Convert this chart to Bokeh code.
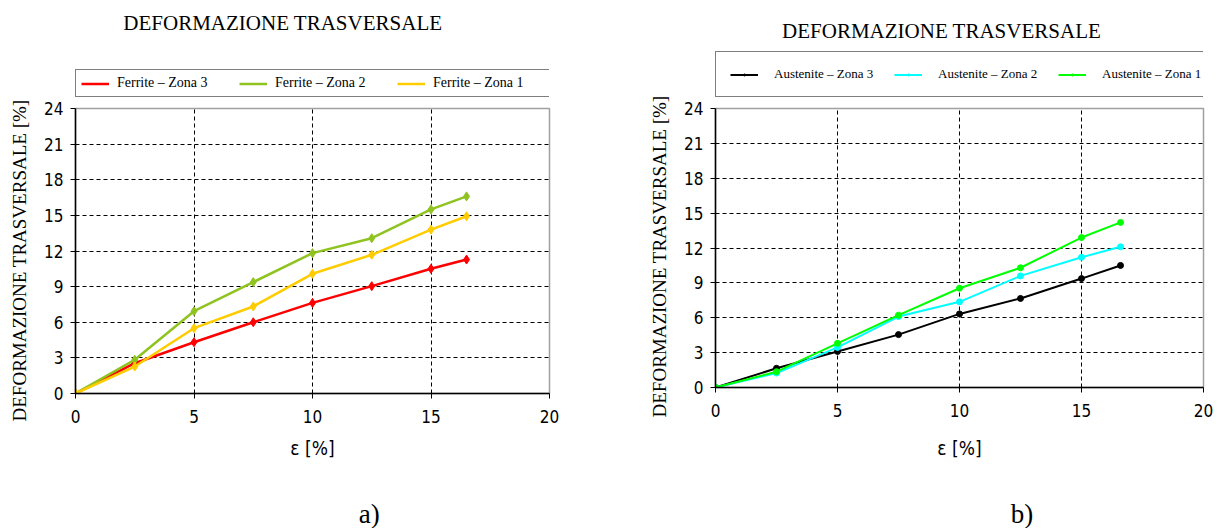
import math
from bokeh.plotting import figure
from bokeh.models import Legend, LegendItem, FixedTicker, Range1d, Label
from bokeh.layouts import row, column
from bokeh.embed import file_html
from bokeh.resources import INLINE

# ---------------- data ----------------
x_ticks = [0, 5, 10, 15, 20]
y_ticks = [0, 3, 6, 9, 12, 15, 18, 21, 24]
title_text = "DEFORMAZIONE TRASVERSALE"
y_label = "DEFORMAZIONE TRASVERSALE [%]"
x_label = "ε [%]"

strain_a = [0, 2.5, 5, 7.5, 10, 12.5, 15, 16.5]
ferrite_z3 = [0, 2.55, 4.32, 6.0, 7.63, 9.04, 10.5, 11.28]
ferrite_z2 = [0, 2.84, 6.93, 9.38, 11.82, 13.08, 15.5, 16.6]
ferrite_z1 = [0, 2.27, 5.5, 7.33, 10.08, 11.68, 13.8, 14.93]
names_a = ["Ferrite – Zona 3", "Ferrite – Zona 2", "Ferrite – Zona 1"]

strain_b = [0, 2.5, 5, 7.5, 10, 12.5, 15, 16.6]
austenite_z3 = [0, 1.65, 3.1, 4.55, 6.33, 7.66, 9.37, 10.5]
austenite_z2 = [0, 1.24, 3.45, 6.1, 7.37, 9.6, 11.2, 12.1]
austenite_z1 = [0, 1.36, 3.8, 6.22, 8.54, 10.3, 12.9, 14.2]
names_b = ["Austenite – Zona 3", "Austenite – Zona 2", "Austenite – Zona 1"]

SERIF = "Liberation Serif"
NARROW = "Liberation Sans Narrow, DejaVu Sans Condensed, Liberation Sans, sans-serif"


def draw_series(p, xs, series, names, colors, marker, msize, lw, **kw):
    items = []
    for ys, name, col in zip(series, names, colors):
        ln = p.line(xs, ys, line_color=col, line_width=lw, **kw)
        sc = p.scatter(xs, ys, marker=marker, size=msize, fill_color=col,
                       line_color=col, **kw)
        items.append(LegendItem(label=name, renderers=[ln, sc]))
    return items


def blank(w, h):
    # plain canvas whose data units equal pixels (y downward)
    p = figure(width=w, height=h, output_backend="svg",
               toolbar_location=None, title=None,
               x_axis_location=None, y_axis_location=None,
               x_range=Range1d(0, w), y_range=Range1d(h, 0), min_border=0)
    p.outline_line_color = None
    p.grid.visible = False
    p.background_fill_color = "white"
    p.border_fill_color = "white"
    return p


def text(p, x, y, t, size, angle=0.0, font=SERIF):
    p.add_layout(Label(x=x, y=y, text=t, angle=angle, text_font=font,
                       text_font_size=size, text_color="black",
                       text_align="center", text_baseline="middle"))


def main_plot(width, height, b_left, b_right, b_top, b_bottom,
              xs, series, names, colors, marker, msize, lw, xlab_standoff):
    p = figure(width=width, height=height, output_backend="svg",
               toolbar_location=None, title=None,
               x_range=Range1d(x_ticks[0], x_ticks[-1]),
               y_range=Range1d(y_ticks[0], y_ticks[-1]),
               min_border_left=b_left, min_border_right=b_right,
               min_border_top=b_top, min_border_bottom=b_bottom)
    p.background_fill_color = "white"
    p.border_fill_color = "white"
    p.outline_line_color = "#a0a0a0"
    p.outline_line_width = 1.5

    for ax in (p.xaxis[0], p.yaxis[0]):
        ax.axis_line_color = "black"
        ax.axis_line_width = 1.5
        ax.major_tick_line_color = "black"
        ax.major_tick_out = 5
        ax.major_tick_in = 0
        ax.minor_tick_line_color = None
        ax.major_label_text_font = NARROW
        ax.major_label_text_font_size = "17px"
        ax.major_label_text_color = "black"
        ax.axis_label_text_color = "black"
        ax.axis_label_text_font_style = "normal"
    p.xaxis.ticker = FixedTicker(ticks=x_ticks)
    p.yaxis.ticker = FixedTicker(ticks=y_ticks)
    p.xaxis.major_label_standoff = 11
    p.yaxis.major_label_standoff = 7

    p.xaxis.axis_label = x_label
    p.xaxis.axis_label_text_font = NARROW
    p.xaxis.axis_label_text_font_size = "19px"
    p.xaxis.axis_label_standoff = xlab_standoff

    p.xgrid.ticker = FixedTicker(ticks=x_ticks[1:-1])
    p.ygrid.ticker = FixedTicker(ticks=y_ticks[1:-1])
    for g in (p.xgrid[0], p.ygrid[0]):
        g.grid_line_color = "black"
        g.grid_line_width = 1
        g.grid_line_dash = "4 3"

    draw_series(p, xs, series, names, colors, marker, msize, lw)
    return p


def header(w, h, title_xy, xs, series, names, colors, marker, msize, lw,
           cfg):
    p = blank(w, h)
    text(p, title_xy[0], title_xy[1], title_text, "21px")
    # legend-only renderers, drawn against an off-screen range
    p.extra_x_ranges = {"off": Range1d(1000, 1001)}
    items = draw_series(p, xs, series, names, colors, marker, msize, lw,
                        x_range_name="off")
    lg = Legend(items=items, orientation="horizontal", location=cfg["loc"],
                padding=cfg["padding"], spacing=cfg["spacing"],
                glyph_width=cfg["glyph_width"],
                glyph_height=cfg["glyph_height"],
                label_width=cfg["label_width"],
                label_height=cfg["glyph_height"],
                label_standoff=cfg["standoff"],
                label_text_font=SERIF,
                label_text_font_size=cfg["font_size"],
                label_text_color="black",
                border_line_color="black", border_line_width=1.5,
                background_fill_color="white", background_fill_alpha=1,
                margin=0)
    p.add_layout(lg, "center")
    return p


def ylab(w, h, x, y):
    p = blank(w, h)
    text(p, x, y, y_label, "19px", angle=math.pi / 2)
    return p


def footer(w, h, x, y, tag):
    p = blank(w, h)
    text(p, x, y, tag, "27px")
    return p


# ---------------- panel a (page x 40..600) ----------------
cols_a = ["#ff0000", "#8fc31f", "#ffcc00"]
series_a = [ferrite_z3, ferrite_z2, ferrite_z1]
ylab_a = ylab(40, 528, 19, 260)
head_a = header(560, 98, (245, 22), strain_a, series_a, names_a, cols_a,
                "diamond", 9, 2.5,
                dict(loc=(0, 1), padding=5, spacing=0, glyph_width=28,
                     glyph_height=5, label_width=122, standoff=8,
                     font_size="14px"))
main_a = main_plot(560, 367, 35, 51, 10, 72, strain_a, series_a, names_a,
                   cols_a, "diamond", 9, 2.5, 11)
foot_a = footer(560, 63, 347, 48, "a)")

# ---------------- panel b (page x 680..1226) ----------------
cols_b = ["#000000", "#00ffff", "#00ff00"]
series_b = [austenite_z3, austenite_z2, austenite_z1]
ylab_b = ylab(80, 528, 59, 256)
head_b = header(546, 98, (253, 30), strain_b, series_b, names_b, cols_b,
                "circle", 6, 2,
                dict(loc=(0, 1), padding=14, spacing=10, glyph_width=28,
                     glyph_height=5, label_width=110, standoff=16,
                     font_size="13px"))
main_b = main_plot(546, 367, 35, 23, 10, 78, strain_b, series_b, names_b,
                   cols_b, "circle", 6, 2, 17)
foot_b = footer(546, 63, 343, 48, "b)")

layout = row(ylab_a, column(head_a, main_a, foot_a),
             ylab_b, column(head_b, main_b, foot_b))
open("out.html", "w").write(file_html(layout, INLINE))
